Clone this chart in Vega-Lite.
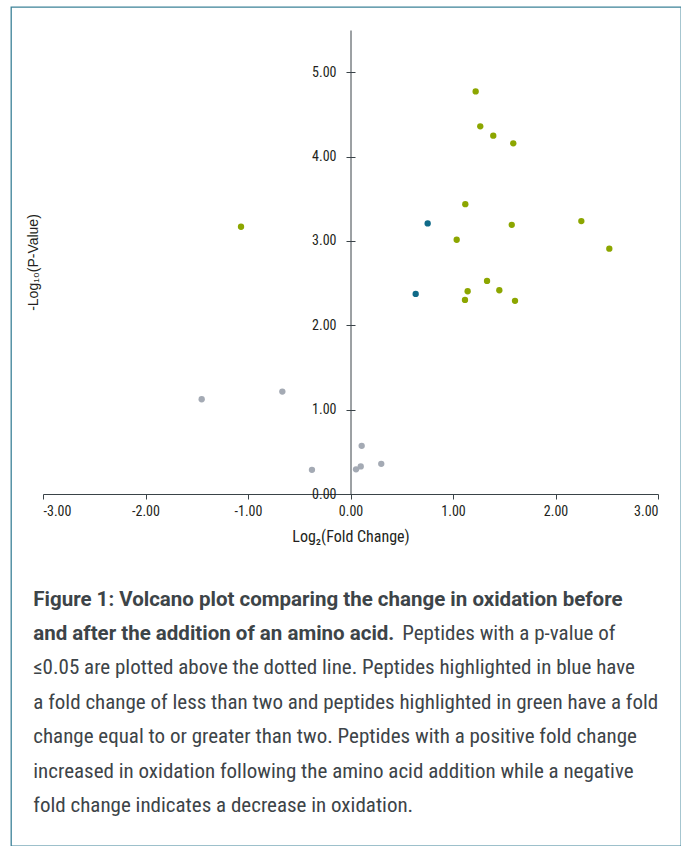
{
  "$schema": "https://vega.github.io/schema/vega-lite/v6.json",
  "width": 670,
  "height": 839,
  "autosize": {"type": "none"},
  "padding": {"left": 11, "top": 7, "right": 0, "bottom": 0},
  "background": "white",
  "config": {
    "view": {"stroke": "#3d8298", "strokeWidth": 1.3},
    "font": "Roboto Condensed"
  },
  "datasets": {
    "peptides": [
      {"log2fc": 1.221, "neglogp": 4.772, "group": "up"},
      {"log2fc": 1.266, "neglogp": 4.358, "group": "up"},
      {"log2fc": 1.393, "neglogp": 4.247, "group": "up"},
      {"log2fc": 1.588, "neglogp": 4.157, "group": "up"},
      {"log2fc": 1.120, "neglogp": 3.436, "group": "up"},
      {"log2fc": 1.573, "neglogp": 3.191, "group": "up"},
      {"log2fc": 2.252, "neglogp": 3.235, "group": "up"},
      {"log2fc": 1.036, "neglogp": 3.014, "group": "up"},
      {"log2fc": 2.525, "neglogp": 2.908, "group": "up"},
      {"log2fc": 1.332, "neglogp": 2.526, "group": "up"},
      {"log2fc": 1.143, "neglogp": 2.403, "group": "up"},
      {"log2fc": 1.452, "neglogp": 2.415, "group": "up"},
      {"log2fc": 1.117, "neglogp": 2.301, "group": "up"},
      {"log2fc": 1.605, "neglogp": 2.290, "group": "up"},
      {"log2fc": -1.068, "neglogp": 3.168, "group": "up"},
      {"log2fc": 0.753, "neglogp": 3.207, "group": "small"},
      {"log2fc": 0.636, "neglogp": 2.372, "group": "small"},
      {"log2fc": -1.452, "neglogp": 1.123, "group": "ns"},
      {"log2fc": -0.665, "neglogp": 1.214, "group": "ns"},
      {"log2fc": -0.376, "neglogp": 0.287, "group": "ns"},
      {"log2fc": 0.054, "neglogp": 0.292, "group": "ns"},
      {"log2fc": 0.100, "neglogp": 0.327, "group": "ns"},
      {"log2fc": 0.109, "neglogp": 0.571, "group": "ns"},
      {"log2fc": 0.300, "neglogp": 0.358, "group": "ns"}
    ],
    "caption": [
      {"line": 1, "style": "bold", "text": "Figure 1: Volcano plot comparing the change in oxidation before"},
      {"line": 2, "style": "bold", "text": "and after the addition of an amino acid."},
      {"line": 2, "style": "cont", "text": "Peptides with a p-value of"},
      {"line": 3, "style": "regular", "text": "≤0.05 are plotted above the dotted line. Peptides highlighted in blue have"},
      {"line": 4, "style": "regular", "text": "a fold change of less than two and peptides highlighted in green have a fold"},
      {"line": 5, "style": "regular", "text": "change equal to or greater than two. Peptides with a positive fold change"},
      {"line": 6, "style": "regular", "text": "increased in oxidation following the amino acid addition while a negative"},
      {"line": 7, "style": "regular", "text": "fold change indicates a decrease in oxidation."}
    ]
  },
  "layer": [
    {
      "data": {"name": "peptides"},
      "mark": {"type": "circle", "size": 40, "opacity": 1},
      "encoding": {
        "x": {
          "field": "log2fc", "type": "quantitative",
          "scale": {"domain": [-3, 3], "range": [32, 647], "nice": false, "zero": false},
          "axis": {
            "orient": "bottom", "offset": -352, "values": [-3, -2, -1, 0, 1, 2, 3],
            "labelExpr": "replace(format(datum.value, '.2f'), '−', '-')",
            "grid": false, "tickSize": 5, "tickColor": "#3a4348", "domainColor": "#3a4348",
            "labelFont": "Roboto Condensed",
            "labelFontSize": 14, "labelColor": "#231f20", "labelPadding": 5,
            "title": "Log₂(Fold Change)", "titleFontSize": 16, "titleFontWeight": "normal",
            "titleFont": "Roboto Condensed",
            "titleColor": "#231f20", "titlePadding": 10
          }
        },
        "y": {
          "field": "neglogp", "type": "quantitative",
          "scale": {"domain": [0, 5.5], "range": [487, 23], "nice": false, "zero": false},
          "axis": {
            "orient": "left", "offset": -339.5, "values": [0, 1, 2, 3, 4, 5], "format": ".2f",
            "grid": false, "tickSize": 4.5, "tickColor": "#3a4348", "domainColor": "#3a4348",
            "labelFont": "Roboto Condensed",
            "labelFontSize": 14, "labelColor": "#231f20", "labelPadding": 10,
            "title": "-Log₁₀(P-Value)", "titleFont": "Liberation Sans", "titleFontSize": 14,
            "titleFontWeight": "normal", "titleColor": "#231f20", "titleX": -317.5, "titleBaseline": "middle"
          }
        },
        "color": {
          "field": "group", "type": "nominal", "legend": null,
          "scale": {"domain": ["up", "small", "ns"], "range": ["#8ca600", "#0f6a88", "#a4aab4"]}
        }
      }
    },
    {
      "mark": {"type": "rule", "strokeDash": [4, 3], "color": "#2b2b2b", "strokeWidth": 1},
      "encoding": {
        "x": {"datum": -3, "type": "quantitative"},
        "x2": {"datum": 3},
        "y": {
          "datum": 1.3, "type": "quantitative",
          "scale": {"domain": [0, 5.5], "range": [487, 23], "nice": false, "zero": false},
          "axis": {
            "orient": "right", "offset": -330.5, "values": [0, 1, 2, 3, 4, 5], "labels": false,
            "domain": false, "grid": false, "tickSize": 4.5, "tickColor": "#3a4348", "title": null
          }
        }
      }
    },
    {
      "data": {"name": "caption"},
      "transform": [{"filter": "datum.style === 'bold'"}],
      "mark": {"type": "text", "align": "left", "baseline": "alphabetic", "fontSize": 20.5, "fontWeight": "bold", "color": "#3d4448", "font": "Roboto"},
      "encoding": {
        "x": {"datum": -3.095, "type": "quantitative"},
        "y": {"field": "line", "type": "ordinal", "scale": {"type": "point", "domain": [1, 2, 3, 4, 5, 6, 7], "range": [598.5, 805], "padding": 0}, "axis": null},
        "text": {"field": "text"}
      }
    },
    {
      "data": {"name": "caption"},
      "transform": [{"filter": "datum.style === 'regular'"}],
      "mark": {"type": "text", "align": "left", "baseline": "alphabetic", "fontSize": 21, "color": "#3d4448", "font": "Roboto Condensed"},
      "encoding": {
        "x": {"datum": -3.095, "type": "quantitative"},
        "y": {"field": "line", "type": "ordinal", "scale": {"type": "point", "domain": [1, 2, 3, 4, 5, 6, 7], "range": [598.5, 805], "padding": 0}, "axis": null},
        "text": {"field": "text"}
      }
    },
    {
      "data": {"name": "caption"},
      "transform": [{"filter": "datum.style === 'cont'"}],
      "mark": {"type": "text", "align": "left", "baseline": "alphabetic", "fontSize": 21, "color": "#3d4448", "dx": 369, "font": "Roboto Condensed"},
      "encoding": {
        "x": {"datum": -3.095, "type": "quantitative"},
        "y": {"field": "line", "type": "ordinal", "scale": {"type": "point", "domain": [1, 2, 3, 4, 5, 6, 7], "range": [598.5, 805], "padding": 0}, "axis": null},
        "text": {"field": "text"}
      }
    }
  ],
  "resolve": {"scale": {"y": "independent"}, "axis": {"y": "independent"}}
}
